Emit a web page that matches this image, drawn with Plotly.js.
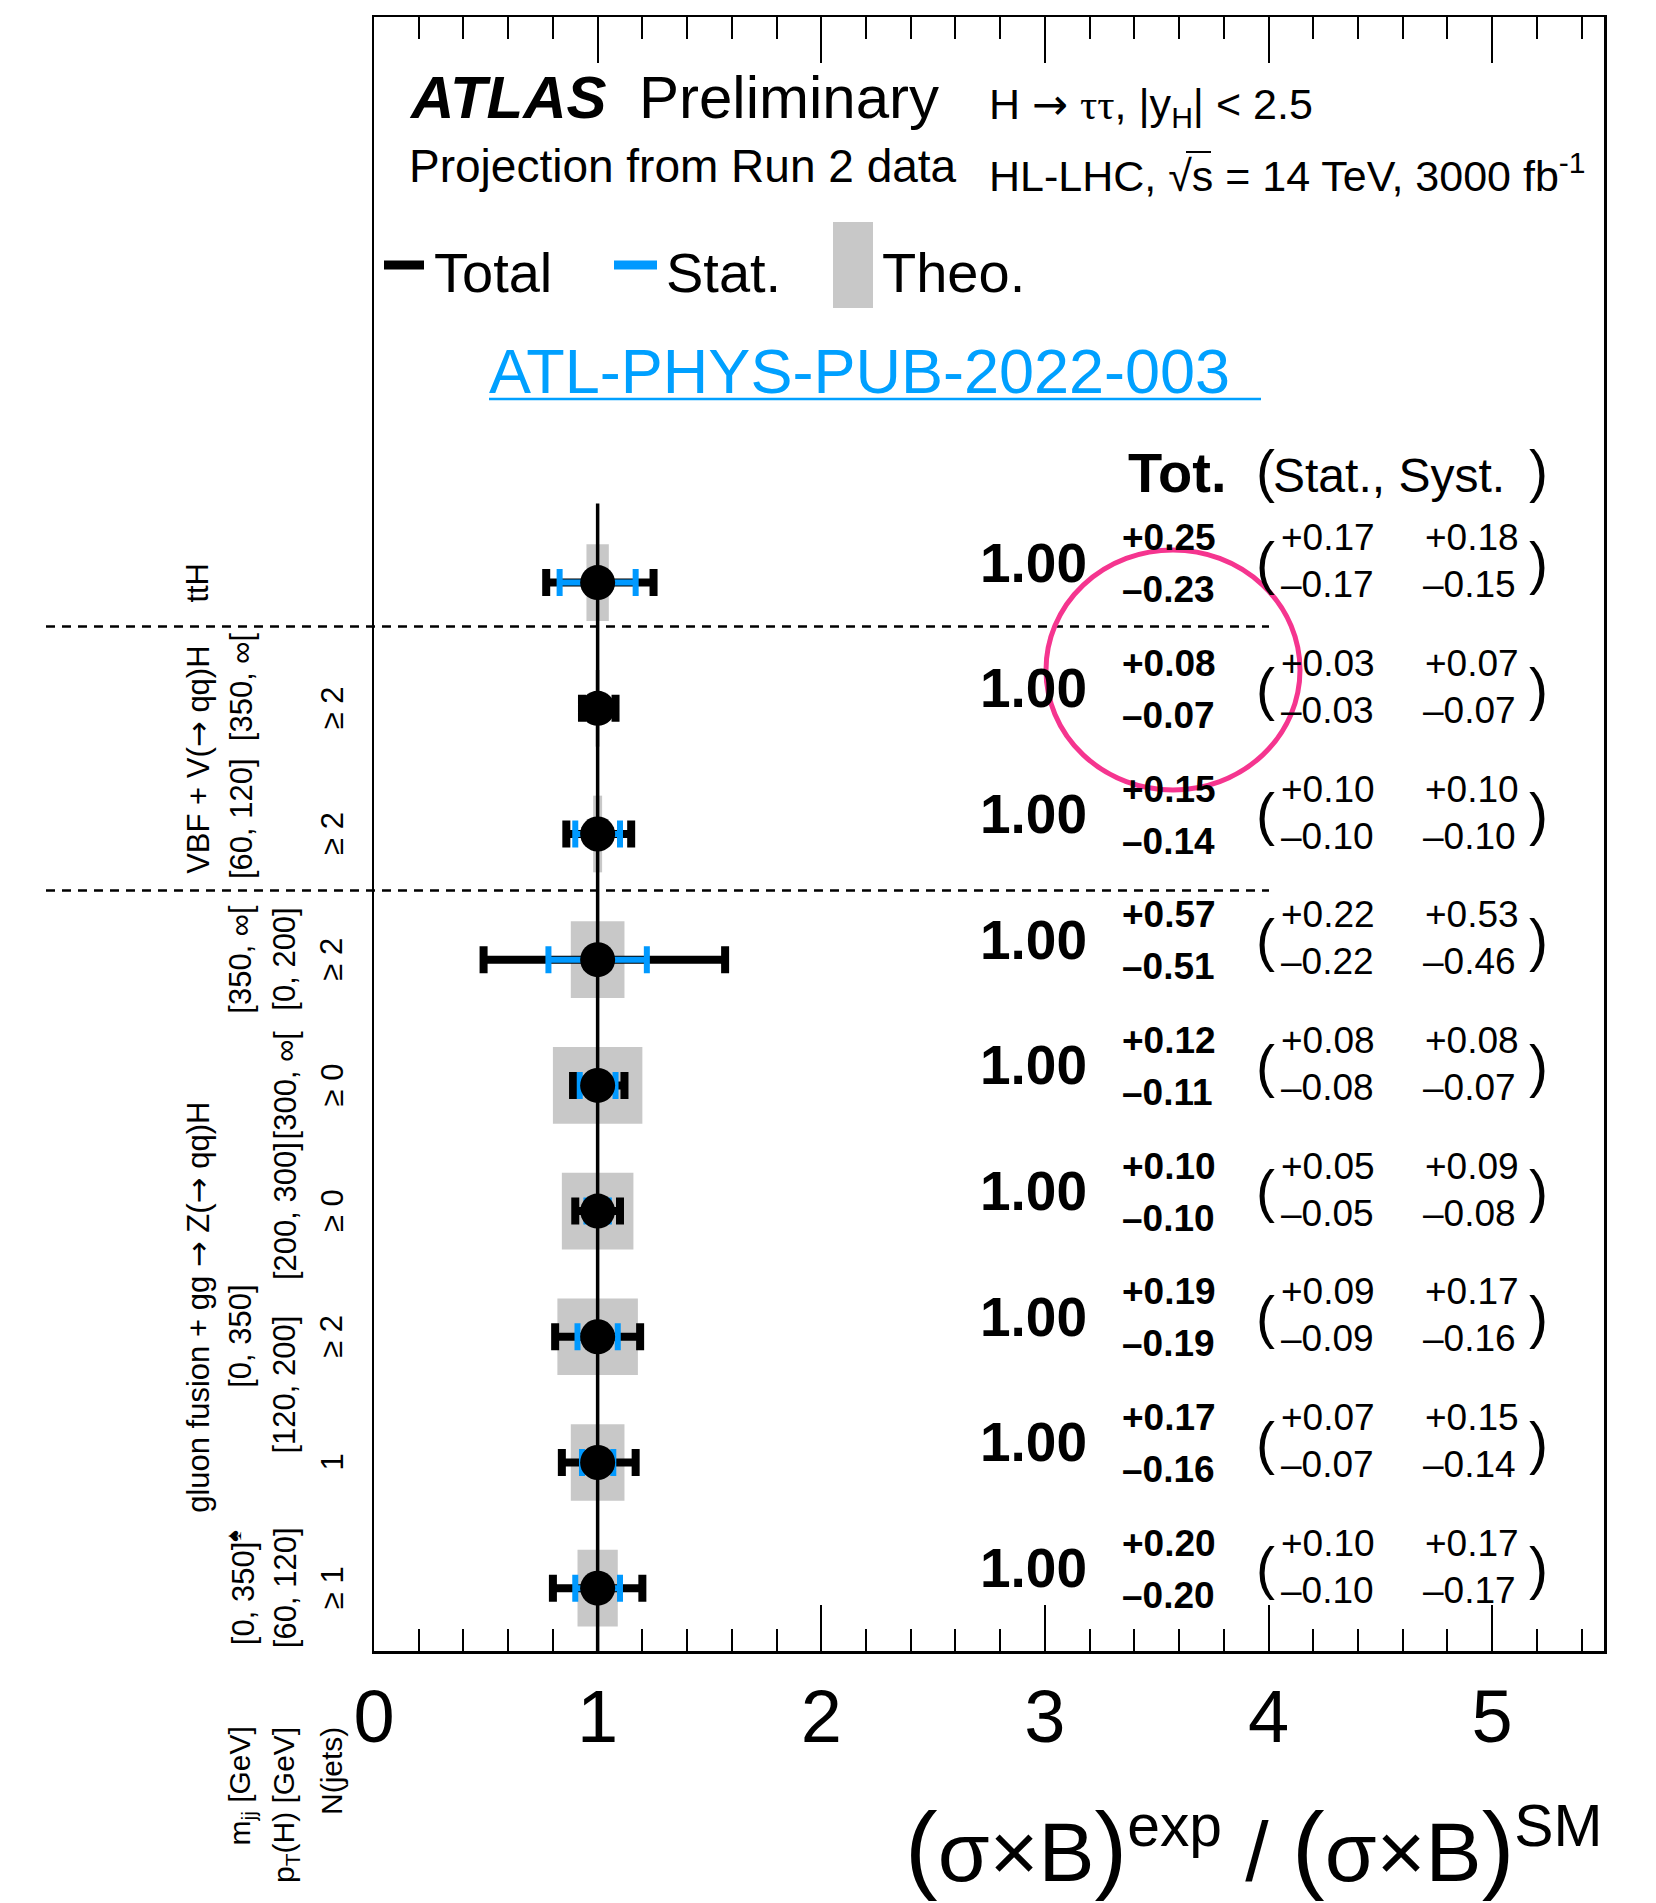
<!DOCTYPE html>
<html><head><meta charset="utf-8">
<script src="https://cdn.plot.ly/plotly-3.0.1.min.js"></script>
<style>html,body{margin:0;padding:0;background:#fff}</style>
</head><body><div id="chart" style="width:1656px;height:1903px"></div>
<script>
// ---------------- data (rows listed top to bottom) ----------------
const binNames = ['ttH', 'VBF mjj[350,inf[', 'VBF mjj[60,120]', 'ggF mjj[350,inf[ pT[0,200]', 'ggF pT[300,inf[', 'ggF pT[200,300]', 'ggF mjj[0,350] pT[120,200] >=2j', 'ggF pT[120,200] 1j', 'ggF mjj[0,350] pT[60,120] >=1j'];
const rowPos  = [8, 7, 6, 5, 4, 3, 2, 1, 0];
const mu      = [1.00, 1.00, 1.00, 1.00, 1.00, 1.00, 1.00, 1.00, 1.00];
const totUp   = [0.25, 0.08, 0.15, 0.57, 0.12, 0.10, 0.19, 0.17, 0.20];
const totDn   = [0.23, 0.07, 0.14, 0.51, 0.11, 0.10, 0.19, 0.16, 0.20];
const statUp  = [0.17, 0.03, 0.10, 0.22, 0.08, 0.05, 0.09, 0.07, 0.10];
const statDn  = [0.17, 0.03, 0.10, 0.22, 0.08, 0.05, 0.09, 0.07, 0.10];
const systUp  = [0.18, 0.07, 0.10, 0.53, 0.08, 0.09, 0.17, 0.15, 0.17];
const systDn  = [0.15, 0.07, 0.10, 0.46, 0.07, 0.08, 0.16, 0.14, 0.17];
const theo    = [0.05, 0.01, 0.02, 0.12, 0.20, 0.16, 0.18, 0.12, 0.09];

// left-hand bin labels
const ARROW = '<span style="font-family:DejaVu Sans">→</span>';
const groupText = ['ttH', 'VBF + V(' + ARROW + ' qq)H', 'gluon fusion + gg ' + ARROW + ' Z(' + ARROW + ' qq)H'];
const groupY    = [8, 6.59, 2.23];
const mjjText   = ['[60, 120]  [350, ∞[', '[350, ∞[', '[0, 350]', '[0, 350]<sup>♠</sup>'];
const mjjY      = [6.62, 5, 2, 0];
const ptText    = ['[0, 200]', '[300, ∞[', '[200, 300]', '[120, 200]', '[60, 120]'];
const ptY       = [5, 4, 3, 1.62, 0];
const njText    = ['≥ 2', '≥ 2', '≥ 2', '≥ 0', '≥ 0', '≥ 2', '1', '≥ 1'];
const njY       = [7, 6, 5, 4, 3, 2, 1, 0];
const colTitles = ['m<sub>jj</sub> [GeV]', 'p<sub>T</sub>(H) [GeV]', 'N(jets)'];

const separators = [7.65, 5.55];
const refLineX = [1, 1];
const refLineY = [-0.5, 8.63];
const xTickVals = [0, 1, 2, 3, 4, 5];

// ---------------- geometry / style ----------------
const FONT = 'Liberation Sans, Arial, Helvetica, sans-serif';
const W = 1656, H = 1903;
const PX0 = 374, PX1 = 1604, PY0 = 17, PY1 = 1651;
const PW = PX1 - PX0, PH = PY1 - PY0;
const BLUE = '#0099ff';
const px2x = p => (p - PX0) / PW;
const px2y = p => (PY1 - p) / PH;

function ann(text, xpx, basePx, fs, anchor, extra) {
  const dx = anchor === 'left' ? -2 : (anchor === 'right' ? 2 : 0);
  return Object.assign({
    xref: 'paper', yref: 'paper', x: px2x(xpx + dx), y: px2y(basePx - 0.3465 * fs),
    xanchor: anchor, yanchor: 'middle', text: text, showarrow: false,
    font: {family: FONT, size: fs, color: '#000'}
  }, extra || {});
}
function rowAnn(text, xpx, rowY, baseOff, fs, anchor, extra) {
  const dx = anchor === 'left' ? -2 : (anchor === 'right' ? 2 : 0);
  return Object.assign({
    xref: 'paper', yref: 'y', x: px2x(xpx + dx), y: rowY,
    yshift: -(baseOff - 0.3465 * fs),
    xanchor: anchor, yanchor: 'middle', text: text, showarrow: false,
    font: {family: FONT, size: fs, color: '#000'}
  }, extra || {});
}
function rotAnn(text, xpx, yData, fs) {
  return {xref: 'paper', yref: 'y', x: px2x(xpx), y: yData, textangle: -90,
    xanchor: 'center', yanchor: 'middle', text: text, showarrow: false,
    font: {family: FONT, size: fs, color: '#000'}};
}

const annotations = [];
// header
annotations.push(ann('<b><i>ATLAS</i></b>', 409, 118, 60, 'left'));
annotations.push(ann('Preliminary', 639, 118, 60, 'left'));
annotations.push(ann('Projection from Run 2 data', 409, 182, 46, 'left'));
annotations.push({xref: 'paper', yref: 'paper', x: px2x(987), y: px2y(118 - 0.905 * 43 - 2),
  xanchor: 'left', yanchor: 'top', showarrow: false,
  text: 'H ' + ARROW + ' <span style="font-family:Liberation Serif">ττ</span>, |y<sub>H</sub>| < 2.5',
  font: {family: FONT, size: 43, color: '#000'}});
annotations.push({xref: 'paper', yref: 'paper', x: px2x(987), y: px2y(191 + 0.212 * 43 + 2),
  xanchor: 'left', yanchor: 'bottom', showarrow: false,
  text: 'HL-LHC, √s = 14 TeV, 3000 fb<sup>-1</sup>', font: {family: FONT, size: 43, color: '#000'}});
// legend texts
annotations.push(ann('Total', 434, 292, 56, 'left'));
annotations.push(ann('Stat.', 666, 292, 56, 'left'));
annotations.push(ann('Theo.', 882, 292, 56, 'left'));
// link
annotations.push(ann('ATL-PHYS-PUB-2022-003', 489, 393, 63, 'left', {font: {family: FONT, size: 63, color: '#00a0ff'}}));
// column header
annotations.push(ann('<b>Tot.</b>', 1128, 492, 56, 'left'));
annotations.push(ann('(', 1256, 491, 57, 'left'));
annotations.push(ann('Stat., Syst.', 1273, 492, 48, 'left'));
annotations.push(ann(')', 1529, 491, 57, 'left'));

// per-row numbers
rowPos.forEach((ry, i) => {
  annotations.push(rowAnn('<b>' + mu[i].toFixed(2) + '</b>', 1087, ry, -1, 55, 'right'));
  annotations.push(rowAnn('<b>+' + totUp[i].toFixed(2) + '</b>', 1122, ry, -32, 37, 'left'));
  annotations.push(rowAnn('<b>–' + totDn[i].toFixed(2) + '</b>', 1122, ry, 20, 37, 'left'));
  annotations.push(rowAnn('(', 1256, ry, 0, 57, 'left'));
  annotations.push(rowAnn('+' + statUp[i].toFixed(2), 1281, ry, -32, 37, 'left'));
  annotations.push(rowAnn('–' + statDn[i].toFixed(2), 1281, ry, 15, 37, 'left'));
  annotations.push(rowAnn('+' + systUp[i].toFixed(2), 1425, ry, -32, 37, 'left'));
  annotations.push(rowAnn('–' + systDn[i].toFixed(2), 1423, ry, 15, 37, 'left'));
  annotations.push(rowAnn(')', 1529, ry, 0, 57, 'left'));
});

// left labels
groupText.forEach((t, i) => annotations.push(rotAnn(t, 198, groupY[i], 31)));
mjjText.forEach((t, i) => annotations.push(rotAnn(t, 241, mjjY[i], 31)));
ptText.forEach((t, i) => annotations.push(rotAnn(t, 285, ptY[i], 31)));
njText.forEach((t, i) => annotations.push(rotAnn(t, 332, njY[i], 31)));
[241, 285, 331].forEach((xp, i) => annotations.push({
  xref: 'paper', yref: 'paper', x: px2x(xp), y: px2y(1725), textangle: -90,
  xanchor: 'center', yanchor: 'top', text: colTitles[i], showarrow: false,
  font: {family: FONT, size: 30, color: '#000'}}));

// x-axis title
annotations.push({xref: 'paper', yref: 'paper', x: 1, y: px2y(1904), xanchor: 'right', yanchor: 'bottom',
  showarrow: false, font: {family: FONT, size: 84, color: '#000'},
  text: '<span style="font-size:98px">(</span>σ×B<span style="font-size:98px">)</span><sup>exp</sup> / <span style="font-size:98px">(</span>σ×B<span style="font-size:98px">)</span><sup>SM</sup>'});

// ---------------- shapes ----------------
const shapes = [];
separators.forEach(s => shapes.push({type: 'line', xref: 'paper', yref: 'y',
  x0: px2x(46), x1: px2x(1269), y0: s, y1: s, line: {color: '#000', width: 2.5, dash: '9px,7px'}, layer: 'above'}));
// legend keys
shapes.push({type: 'line', xref: 'paper', yref: 'paper', x0: px2x(384), x1: px2x(424), y0: px2y(265), y1: px2y(265), line: {color: '#000', width: 9}});
shapes.push({type: 'line', xref: 'paper', yref: 'paper', x0: px2x(614), x1: px2x(657), y0: px2y(265), y1: px2y(265), line: {color: BLUE, width: 9}});
shapes.push({type: 'rect', xref: 'paper', yref: 'paper', x0: px2x(833), x1: px2x(873), y0: px2y(308), y1: px2y(222), line: {width: 0}, fillcolor: '#c8c8c8'});
// link underline
shapes.push({type: 'line', xref: 'paper', yref: 'paper', x0: px2x(489), x1: px2x(1261), y0: px2y(399), y1: px2y(399), line: {color: '#00a0ff', width: 2.5}});
// overline of the square root
shapes.push({type: 'line', xref: 'paper', yref: 'paper', x0: px2x(1186), x1: px2x(1211), y0: px2y(152), y1: px2y(152), line: {color: '#000', width: 2}});
// hand-drawn highlight circle
shapes.push({type: 'circle', xref: 'paper', yref: 'paper', x0: px2x(1046), x1: px2x(1300), y0: px2y(790), y1: px2y(550),
  line: {color: '#f5358f', width: 5}, layer: 'above'});

// ---------------- traces ----------------
const traces = [
  {type: 'bar', orientation: 'h', y: rowPos, x: theo.map(t => 2 * t), base: mu.map((m, i) => m - theo[i]),
   width: 0.61, marker: {color: '#c8c8c8', line: {width: 0}}, showlegend: false, hoverinfo: 'skip'},
  {type: 'scatter', mode: 'lines', x: refLineX, y: refLineY, line: {color: '#000', width: 3.5}, showlegend: false, hoverinfo: 'skip'},
  {type: 'scatter', mode: 'markers', x: mu, y: rowPos, marker: {size: 1, color: 'rgba(0,0,0,0)'},
   error_x: {type: 'data', symmetric: false, array: totUp, arrayminus: totDn, color: '#000', thickness: 8, width: 13.5},
   showlegend: false, hoverinfo: 'skip'},
  {type: 'scatter', mode: 'markers', x: mu, y: rowPos, marker: {size: 1, color: 'rgba(0,0,0,0)'},
   error_x: {type: 'data', symmetric: false, array: statUp, arrayminus: statDn, color: BLUE, thickness: 6, width: 13.5},
   showlegend: false, hoverinfo: 'skip'},
  {type: 'scatter', mode: 'markers', x: mu, y: rowPos, marker: {size: 35, color: '#000'}, showlegend: false, hoverinfo: 'skip'}
];

const layout = {
  width: W, height: H,
  margin: {l: PX0, r: W - PX1, t: PY0, b: H - PY1, pad: 0},
  paper_bgcolor: '#fff', plot_bgcolor: '#fff',
  showlegend: false, barmode: 'overlay',
  font: {family: FONT, color: '#000'},
  xaxis: {range: [0, 5.5], showgrid: false, zeroline: false,
    showline: true, linecolor: '#000', linewidth: 2.5, mirror: 'ticks',
    tickmode: 'array', tickvals: xTickVals, ticktext: xTickVals.map(String),
    ticks: 'inside', ticklen: 46, tickwidth: 2, tickcolor: '#000',
    minor: {dtick: 0.2, tick0: 0, ticks: 'inside', ticklen: 22, tickwidth: 2, tickcolor: '#000', showgrid: false},
    tickfont: {family: FONT, size: 74, color: '#000'}, ticklabelstandoff: 0},
  yaxis: {range: [-0.5, 12.5], showgrid: false, zeroline: false, showticklabels: false, ticks: '',
    showline: true, linecolor: '#000', linewidth: 2.5, mirror: true},
  annotations: annotations,
  shapes: shapes
};

Plotly.newPlot('chart', traces, layout, {staticPlot: true, displayModeBar: false});
</script>
</body></html>
